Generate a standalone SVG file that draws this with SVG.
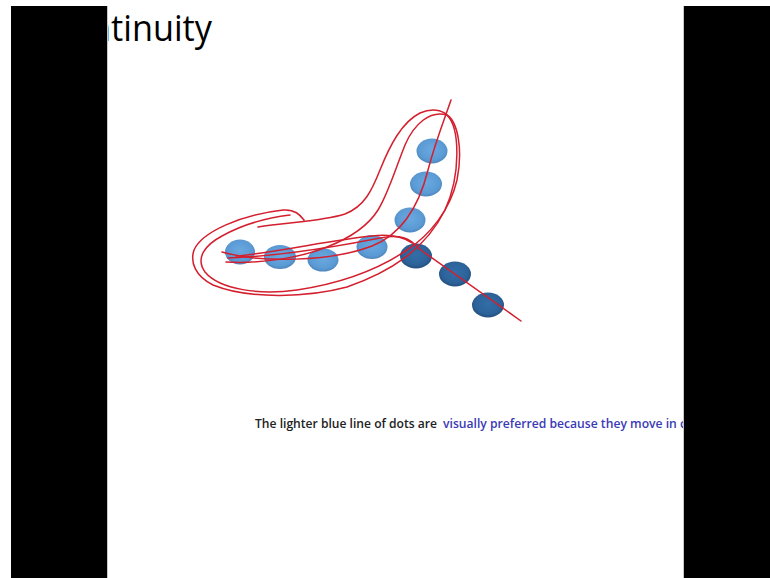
<svg xmlns="http://www.w3.org/2000/svg" width="770" height="578" viewBox="0 0 770 578">
<defs>
<radialGradient id="lb" cx="50%" cy="45%" r="55%">
<stop offset="0" stop-color="#6aa8df"/>
<stop offset="0.75" stop-color="#5b9bd5"/>
<stop offset="1" stop-color="#4f86bd"/>
</radialGradient>
<radialGradient id="db" cx="50%" cy="45%" r="55%">
<stop offset="0" stop-color="#336ea8"/>
<stop offset="0.75" stop-color="#2c6299"/>
<stop offset="1" stop-color="#234e7c"/>
</radialGradient>
<style>
.light{fill:url(#lb)}
.dark{fill:url(#db)}
.pen{fill:none;stroke:#d41f2e;stroke-width:1.5;stroke-linecap:round;stroke-linejoin:round}
.title{font-family:"Open Sans","Liberation Sans",sans-serif;font-size:36px;fill:#000}
.cap{font-family:"Open Sans","Liberation Sans",sans-serif;font-size:13px;font-weight:600}
</style>
</defs>
<rect width="770" height="578" fill="#ffffff"/>
<text class="title" x="90" y="41" textLength="122" lengthAdjust="spacingAndGlyphs">ntinuity</text>
<g id="dots">
<ellipse id="d1" class="light" cx="240" cy="252" rx="15" ry="12.5"/>
<ellipse id="d2" class="light" cx="280" cy="257" rx="16" ry="12"/>
<ellipse id="d3" class="light" cx="323" cy="260" rx="15.5" ry="11.5"/>
<ellipse id="d4" class="light" cx="372" cy="247" rx="15.5" ry="12"/>
<ellipse id="d5" class="light" cx="410" cy="220" rx="15.5" ry="12.5"/>
<ellipse id="d6" class="light" cx="426" cy="184" rx="16" ry="12.5"/>
<ellipse id="d7" class="light" cx="432" cy="151" rx="15.5" ry="12.5"/>
<ellipse id="d8" class="dark" cx="416" cy="256" rx="16" ry="12.5"/>
<ellipse id="d9" class="dark" cx="455" cy="274" rx="16" ry="12.5"/>
<ellipse id="d10" class="dark" cx="488" cy="305" rx="16" ry="12.5"/>
</g>
<g id="strokes">
<path class="pen" d="M258,227 C285,222 320,222 345,214 C365,206 372,190 380,170 C390,145 402,122 420,113 C432,108 442,110 447,115 C460,128 461,175 445,210 C425,250 390,272 347,287 C310,297 250,300 213,285 C195,276 190,262 194,250 C202,232 240,215 283,210 C295,209 300,215 304,220"/>
<path class="pen" d="M226,262 C260,264 300,258 327,247 C350,238 368,226 378,210 C388,194 395,170 405,145 C414,124 430,110 447,115 C458,122 463,150 457,180 C450,210 430,235 407,250 C385,265 350,282 297,290 C260,295 220,290 205,272 C195,258 205,245 222,236 C240,226 265,218 290,215"/>
<path class="pen" d="M222,252 C260,263 330,262 372,246 C400,235 418,210 428,170 C436,140 446,115 451,100"/>
<path class="pen" d="M228,258 C280,256 340,246 380,238 C400,234 410,238 418,248 L521,321"/>
<path class="pen" d="M236,256 C280,252 330,240 372,236 C390,234 402,236 412,243"/>
</g>
<g id="caption">
<text class="cap" x="255" y="428" fill="#222222" textLength="182" lengthAdjust="spacingAndGlyphs">The lighter blue line of dots are</text>
<text class="cap" x="443" y="428" fill="#3a3ab5" textLength="243" lengthAdjust="spacingAndGlyphs">visually preferred because they move in c</text>
</g>
<rect x="11" y="6" width="96" height="572" fill="#000000"/>
<rect x="684" y="6" width="86" height="572" fill="#000000"/>
<line x1="107.5" y1="6" x2="107.5" y2="578" stroke="#c8c8c8" stroke-width="1"/>
<line x1="683.5" y1="6" x2="683.5" y2="578" stroke="#c8c8c8" stroke-width="1"/>
</svg>
